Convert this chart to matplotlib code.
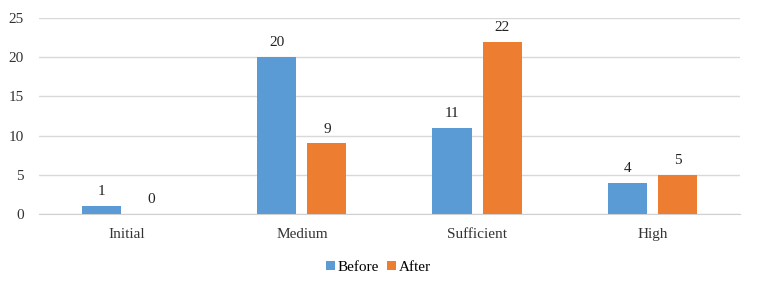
import matplotlib.pyplot as plt
import numpy as np

plt.rcParams['font.family'] = ['Liberation Serif', 'DejaVu Serif']

categories = ['Initial', 'Medium', 'Sufficient', 'High']
before = [1, 20, 11, 4]
after = [0, 9, 22, 5]

fig = plt.figure(figsize=(7.57, 2.89), dpi=100)
ax = fig.add_axes([0.0515, 0.2595, 0.926, 0.678])

x = np.arange(len(categories))
w = 0.223
gap = 0.063
b1 = ax.bar(x - (w + gap) / 2, before, w, color='#5B9BD5', label='Before', zorder=3)
b2 = ax.bar(x + (w + gap) / 2, after, w, color='#ED7D31', label='After', zorder=3)

for bars in (b1, b2):
    for r in bars:
        ax.text(r.get_x() + r.get_width() / 2, r.get_height() + 1.0, f'{int(r.get_height())}',
                ha='center', va='bottom', fontsize=11, color='#222222')

ax.set_xlim(-0.5, 3.5)
ax.set_ylim(0, 25)
ax.set_yticks(range(0, 26, 5))
ax.set_xticks(x)
ax.set_xticklabels(categories)
ax.tick_params(axis='both', length=0, labelsize=11, colors='#333333')
ax.tick_params(axis='y', pad=11)
ax.tick_params(axis='x', pad=10)
ax.grid(axis='y', color='#d9d9d9', linewidth=1, zorder=0)
for s in ['top', 'right', 'left']:
    ax.spines[s].set_visible(False)
ax.spines['bottom'].set_color('#d0d0d0')

fig.legend(handles=[b1, b2], loc='center', bbox_to_anchor=(0.5, 0.075), ncol=2, frameon=False,
           fontsize=11, handlelength=0.6, handleheight=0.6, handletextpad=0.2, columnspacing=0.5)

fig.savefig('out.png', dpi=100)
